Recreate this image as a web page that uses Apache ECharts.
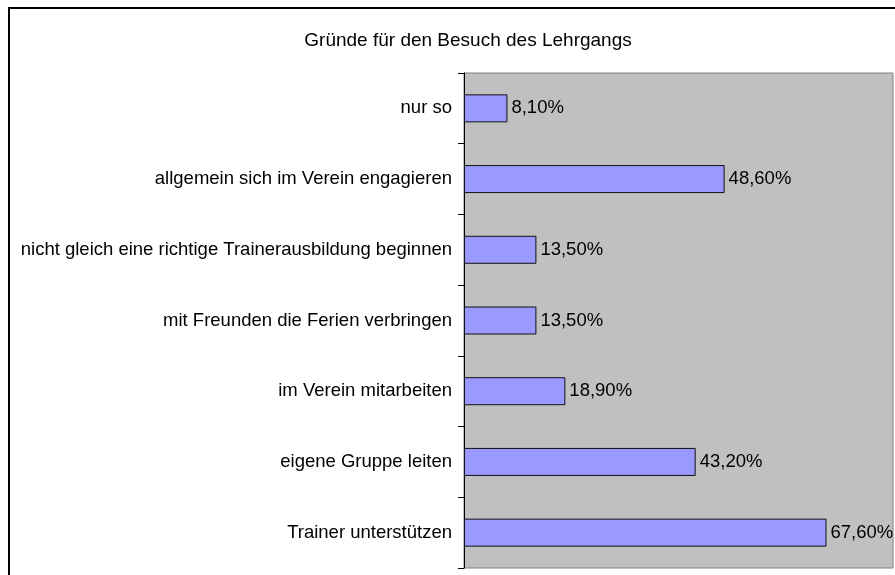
<!DOCTYPE html>
<html>
<head>
<meta charset="utf-8">
<script src="https://cdn.jsdelivr.net/npm/echarts@6/dist/echarts.min.js"></script>
<style>
  html, body { margin: 0; padding: 0; background: #fff; }
  #frame { position: absolute; left: 8px; top: 7px; width: 900px; height: 600px;
           border-left: 2px solid #000; border-top: 2px solid #000; }
  #main { position: absolute; left: 0; top: 0; width: 895px; height: 575px; }
</style>
</head>
<body>
<div id="frame"></div>
<div id="main"></div>
<script>
// Gründe für den Besuch des Lehrgangs
const categories = [
  "nur so",
  "allgemein sich im Verein engagieren",
  "nicht gleich eine richtige Trainerausbildung beginnen",
  "mit Freunden die Ferien verbringen",
  "im Verein mitarbeiten",
  "eigene Gruppe leiten",
  "Trainer unterstützen"
];
const values = [8.1, 48.6, 13.5, 13.5, 18.9, 43.2, 67.6];

const chart = echarts.init(document.getElementById("main"));
const font = "Liberation Sans, Arial, sans-serif";

chart.setOption({
  animation: false,
  title: {
    text: "Gründe für den Besuch des Lehrgangs",
    left: 463,
    top: 26,
    textAlign: "center",
    textStyle: { fontFamily: font, fontSize: 19, fontWeight: "normal", color: "#000" }
  },
  grid: {
    left: 464, top: 73, width: 429, height: 495,
    show: true, backgroundColor: "#C0C0C0", borderColor: "#808080", borderWidth: 1
  },
  xAxis: {
    type: "value", min: 0, max: 80,
    axisLabel: { show: false }, axisTick: { show: false },
    axisLine: { show: false }, splitLine: { show: false }
  },
  yAxis: {
    type: "category", inverse: true, data: categories,
    axisLine: { show: true, lineStyle: { color: "#000", width: 1 } },
    axisTick: { show: true, length: 6, lineStyle: { color: "#000" } },
    axisLabel: { fontFamily: font, fontSize: 18.5, color: "#000", margin: 12 }
  },
  series: [{
    type: "bar",
    data: values,
    barWidth: 28,
    itemStyle: { color: "#9999FF", borderColor: "#111", borderWidth: 1 },
    label: {
      show: true, position: "right", distance: 4,
      fontFamily: font, fontSize: 18.5, color: "#000",
      formatter: p => p.value.toFixed(2).replace(".", ",") + "%"
    }
  }]
});
</script>
</body>
</html>
